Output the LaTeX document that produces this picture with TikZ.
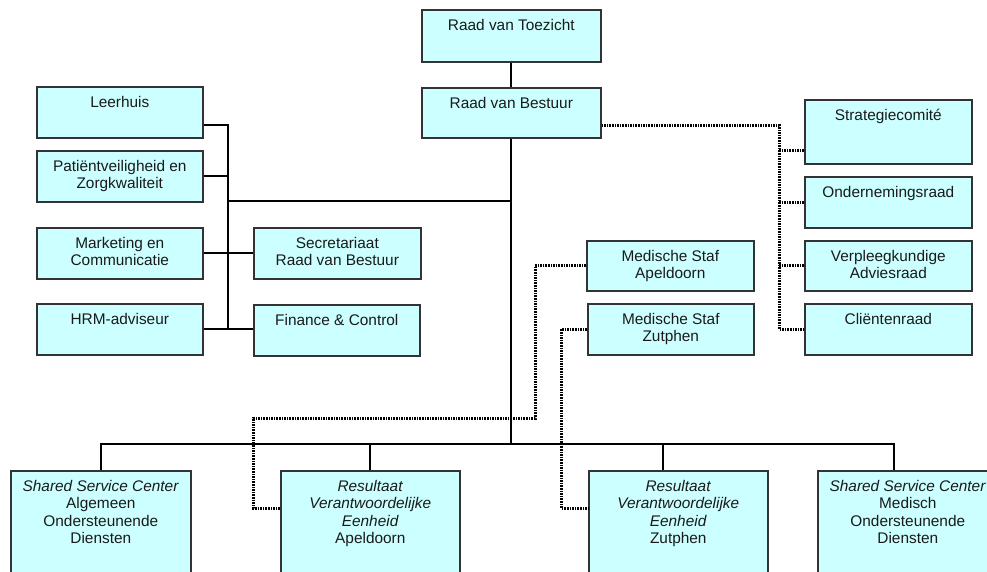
\documentclass[tikz,border=0pt]{standalone}
\usepackage{fontspec}
\setmainfont{Liberation Sans}
\usetikzlibrary{calc}
\definecolor{boxfill}{HTML}{CCFFFF}
\definecolor{boxline}{HTML}{333333}
\definecolor{txtcol}{HTML}{1A1A1A}
\newcommand\obox[6]{%
  \node[orgbox, anchor=north west, minimum width=#4pt, minimum height=#5pt] (#1) at (#2,#3) {};
  \node[lbl] (#1-t) at ($(#1.north)+(0,9)$) {\rule{0pt}{12pt}#6};}
\begin{document}
\begin{tikzpicture}[x=1pt,y=-1pt,
  orgbox/.style={draw=boxline, fill=boxfill, line width=1.6pt, inner sep=0pt},
  lbl/.style={anchor=north, inner sep=0pt, align=center, text=txtcol, font=\fontsize{15.4}{17.5}\selectfont},
  conn/.style={line width=2.2pt, black},
  dotline/.style={line width=3pt, black, dash pattern=on 1.6pt off 1pt}]
\useasboundingbox (0,0) rectangle (987,571);
\clip (0,0) rectangle (987,571);

% boxes
\obox{rvt}{421}{9}{179}{52}{Raad van Toezicht}
\obox{rvb}{421}{87}{179}{50}{Raad van Bestuur}
\obox{leer}{36}{86}{166}{51}{Leerhuis}
\obox{pat}{36}{150}{166}{51}{Patiëntveiligheid en\\Zorgkwaliteit}
\obox{mark}{36}{227}{166}{51}{Marketing en\\Communicatie}
\obox{hrm}{36}{303}{166}{51}{HRM-adviseur}
\obox{secr}{253}{227}{167}{51}{Secretariaat\\Raad van Bestuur}
\obox{fin}{253}{304}{166}{51}{Finance \& Control}
\obox{strat}{804}{99}{167}{64}{Strategiecomité}
\obox{ond}{804}{176}{167}{51}{Ondernemingsraad}
\obox{verp}{804}{240}{167}{50}{Verpleegkundige\\Adviesraad}
\obox{cli}{804}{303}{167}{51}{Cliëntenraad}
\obox{msa}{586}{240}{167}{50}{Medische Staf\\Apeldoorn}
\obox{msz}{587}{303}{166}{51}{Medische Staf\\Zutphen}
\obox{ssca}{10}{470}{180}{130}{\textit{Shared Service Center}\\Algemeen\\Ondersteunende\\Diensten}
\obox{rvea}{280}{470}{179}{130}{\textit{Resultaat}\\\textit{Verantwoordelijke}\\\textit{Eenheid}\\Apeldoorn}
\obox{rvez}{588}{470}{179}{130}{\textit{Resultaat}\\\textit{Verantwoordelijke}\\\textit{Eenheid}\\Zutphen}
\obox{sscm}{817}{470}{180}{130}{\textit{Shared Service Center}\\Medisch\\Ondersteunende\\Diensten}

% helper coordinates
\coordinate (lbT) at (228,125);
\coordinate (lbM) at (228,201);
\coordinate (lbB) at (228,329);
\coordinate (bus) at (510,444);
\coordinate (dz) at (663,444);
\coordinate (dm) at (894,444);
\coordinate (d1) at (779,125);
\coordinate (d2) at (779,150);
\coordinate (a1) at (535,418);
\coordinate (a2) at (253,508);
\coordinate (z1) at (561,508);

% solid connectors
\draw[conn] (rvt.south) -- (rvb.north);
\draw[conn] (rvb.south) -- (rvb.south |- bus);
\draw[conn] (leer.east |- lbT) -- (lbT) -- (lbB);
\draw[conn] (pat.east) -- (pat.east -| lbT);
\draw[conn] (mark.east) -- (secr.west);
\draw[conn] (hrm.east) -- (hrm.east -| fin.west);
\draw[conn] (lbM) -- (lbM -| rvb.south);
\draw[conn] (ssca.north) -- (ssca.north |- bus) -- (dm) -- (sscm.north -| dm);
\draw[conn] (rvea.north) -- (rvea.north |- bus);
\draw[conn] (rvez.north -| dz) -- (dz);

% dotted connectors
\draw[dotline] (rvb.east |- d1) -- (d1) -- (d1 |- cli.west) -- (cli.west);
\draw[dotline] (d2) -- (d2 -| strat.west);
\draw[dotline] (ond.west -| d1) -- (ond.west);
\draw[dotline] (verp.west -| d1) -- (verp.west);
\draw[dotline] (msa.west) -| (a1) -| (a2) -- (a2 -| rvea.west);
\draw[dotline] (msz.west) -| (z1) -- (z1 -| rvez.west);
\end{tikzpicture}
\end{document}
